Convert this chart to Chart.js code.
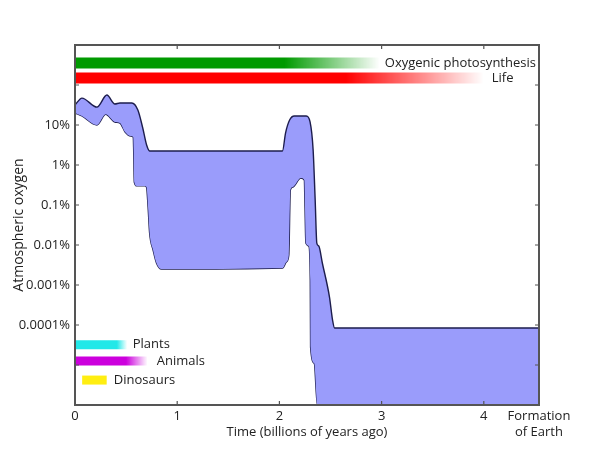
<!DOCTYPE html>
<html lang="en">

<head>
    <meta charset="UTF-8">
    <title>Atmospheric oxygen over time</title>
    <script src="https://cdn.jsdelivr.net/npm/chart.js"></script>
    <style>
        * {
            margin: 0;
            padding: 0;
            box-sizing: border-box;
        }

        body {
            background: #fff;
        }

        .chart-box {
            width: 600px;
            height: 450px;
        }
    </style>
</head>

<body>

    <div class="chart-box">
        <canvas id="oxygenChart"></canvas>
    </div>

    <script>
        // oxygen band, time in billions of years ago, O2 in percent of atmosphere
        const upperTimes = [0, 0.068, 0.215, 0.312, 0.39, 0.44, 0.556, 0.615, 0.663, 0.70, 0.73,
            2.03, 2.06, 2.10, 2.146, 2.263, 2.30, 2.33, 2.35, 2.366, 2.385, 2.42, 2.49, 2.52, 2.54, 4.54];
        const upperO2 = [31.6, 47, 28, 56, 33.5, 35.5, 35.5, 23.7, 8.4, 3.2, 2.24,
            2.24, 6.3, 13.3, 16.8, 16.8, 11.9, 2.37, 0.133, 0.0112, 0.0094, 0.00355, 0.0005, 0.000133, 0.000084, 0.000084];

        const lowerTimes = [0, 0.068, 0.215, 0.30, 0.39, 0.44, 0.49, 0.546, 0.57, 0.574, 0.58, 0.605, 0.683,
            0.70, 0.715, 0.73, 0.764, 0.797, 0.846, 2.032, 2.068, 2.092, 2.107, 2.13, 2.21, 2.244, 2.249,
            2.259, 2.288, 2.302, 2.305, 2.341, 2.371, 4.54];
        const lowerO2 = [20, 16.8, 10, 18.5, 11.9, 11.2, 6.7, 5.3, 5, 2.37, 0.376, 0.3, 0.3,
            0.28, 0.089, 0.02, 0.0075, 0.00355, 0.0025, 0.00266, 0.00376, 0.0056, 0.237, 0.28, 0.47, 0.42, 0.133,
            0.0112, 0.0094, 0.00133, 0.000028, 0.000011, 0.000001, 0.000001];

        // bars for life events
        const barNames = ['Oxygenic photosynthesis', 'Life', 'Plants', 'Animals', 'Dinosaurs'];
        const barStart = [0, 0, 0, 0, 0.07];
        const barSolidEnd = [2.05, 2.65, 0.41, 0.5, 0.31];
        const barEnd = [2.98, 4.0, 0.51, 0.71, 0.31];
        const barLevel = [355, 150, 0.000032, 0.0000126, 0.0000042];
        const barColors = ['#009a00', '#ff0000', '#22e8e8', '#cc00dd', '#ffee11'];
        const barLabelAt = [4.51, 4.29, 0.565, 0.80, 0.38];
        const barLabelAlign = ['right', 'right', 'left', 'left', 'left'];

        const xTicks = [0, 1, 2, 3, 4, 4.54];
        const yTicks = [1e-6, 1e-5, 1e-4, 1e-3, 1e-2, 1e-1, 1, 10, 100, 1000];
        const yLabels = { 10: '10%', 1: '1%', 0.1: '0.1%', 0.01: '0.01%', 0.001: '0.001%', 0.0001: '0.0001%' };

        const textColor = '#222';
        const fontFamily = '"Open Sans", Lato, sans-serif';

        function fadeColor(hex, alpha) {
            let r = parseInt(hex.slice(1, 3), 16);
            let g = parseInt(hex.slice(3, 5), 16);
            let b = parseInt(hex.slice(5, 7), 16);
            return `rgba(${r}, ${g}, ${b}, ${alpha})`;
        }

        // band datasets
        let datasets = [
            {
                label: 'upper',
                data: upperTimes.map((t, i) => ({ x: t, y: upperO2[i] })),
                borderColor: '#1d1d4d',
                backgroundColor: '#9a9cfb',
                borderWidth: 1.4,
                fill: '+1',
                cubicInterpolationMode: 'monotone',
                pointRadius: 0
            },
            {
                label: 'lower',
                data: lowerTimes.map((t, i) => ({ x: t, y: lowerO2[i] })),
                borderColor: '#1d1d4d',
                borderWidth: 1.4,
                fill: false,
                cubicInterpolationMode: 'monotone',
                pointRadius: 0
            }
        ];

        // each bar is a thick line with a fading gradient
        barNames.forEach((name, i) => {
            datasets.push({
                label: name,
                data: [{ x: barStart[i], y: barLevel[i] }, { x: barEnd[i], y: barLevel[i] }],
                borderWidth: i < 2 ? 11 : 9,
                borderCapStyle: 'butt',
                fill: false,
                pointRadius: 0,
                borderColor: function (context) {
                    let chart = context.chart;
                    if (!chart.chartArea) return barColors[i];
                    let xs = chart.scales.x;
                    let x0 = xs.getPixelForValue(barStart[i]);
                    let x1 = xs.getPixelForValue(barEnd[i]);
                    if (x1 - x0 < 1) return barColors[i];
                    let g = chart.ctx.createLinearGradient(x0, 0, x1, 0);
                    let stop = (barSolidEnd[i] - barStart[i]) / (barEnd[i] - barStart[i]);
                    g.addColorStop(0, barColors[i]);
                    g.addColorStop(Math.min(stop, 1), barColors[i]);
                    g.addColorStop(1, fadeColor(barColors[i], stop >= 1 ? 1 : 0));
                    return g;
                }
            });
        });

        // frame with inward ticks on all four sides, plus bar labels
        const framePlugin = {
            id: 'frame',
            afterDatasetsDraw(chart) {
                let ctx = chart.ctx;
                let { left, right, top, bottom } = chart.chartArea;
                let xs = chart.scales.x;
                let ys = chart.scales.y;
                ctx.save();

                ctx.font = '13px ' + fontFamily;
                ctx.fillStyle = textColor;
                ctx.textBaseline = 'middle';
                barNames.forEach((name, i) => {
                    ctx.textAlign = barLabelAlign[i];
                    ctx.fillText(name, xs.getPixelForValue(barLabelAt[i]), ys.getPixelForValue(barLevel[i]));
                });

                ctx.strokeStyle = '#555';
                ctx.lineWidth = 1.2;
                ctx.beginPath();
                xTicks.slice(1, 5).forEach(v => {
                    let px = xs.getPixelForValue(v);
                    ctx.moveTo(px, bottom);
                    ctx.lineTo(px, bottom - 4);
                    ctx.moveTo(px, top);
                    ctx.lineTo(px, top + 4);
                });
                yTicks.slice(1, -1).forEach(v => {
                    let py = ys.getPixelForValue(v);
                    ctx.moveTo(left, py);
                    ctx.lineTo(left + 4, py);
                    ctx.moveTo(right, py);
                    ctx.lineTo(right - 4, py);
                });
                ctx.stroke();

                ctx.lineWidth = 2;
                ctx.strokeRect(left, top, right - left, bottom - top);
                ctx.restore();
            }
        };

        let ctx = document.getElementById('oxygenChart').getContext('2d');
        new Chart(ctx, {
            type: 'line',
            data: { datasets: datasets },
            plugins: [framePlugin],
            options: {
                responsive: true,
                maintainAspectRatio: false,
                animation: false,
                layout: {
                    padding: { left: 0, right: 61, top: 45, bottom: 0 }
                },
                plugins: {
                    legend: { display: false },
                    tooltip: { enabled: false },
                    filler: { propagate: false }
                },
                scales: {
                    x: {
                        type: 'linear',
                        min: 0,
                        max: 4.54,
                        grid: { display: false, drawTicks: false },
                        border: { display: false },
                        afterBuildTicks: scale => {
                            scale.ticks = xTicks.map(v => ({ value: v }));
                        },
                        afterFit: scale => {
                            scale.height = 45;
                        },
                        ticks: {
                            autoSkip: false,
                            maxRotation: 0,
                            padding: 3,
                            color: textColor,
                            font: { family: fontFamily, size: 13, lineHeight: 1.25 },
                            callback: v => v === 4.54 ? ['Formation', 'of Earth'] : v
                        },
                        title: {
                            display: true,
                            text: 'Time (billions of years ago)',
                            color: textColor,
                            font: { family: fontFamily, size: 13 },
                            padding: { top: 0, bottom: 10 }
                        }
                    },
                    y: {
                        type: 'logarithmic',
                        min: 1e-6,
                        max: 1000,
                        grid: { display: false, drawTicks: false },
                        border: { display: false },
                        afterBuildTicks: scale => {
                            scale.ticks = yTicks.map(v => ({ value: v }));
                        },
                        afterFit: scale => {
                            scale.width = 75;
                        },
                        ticks: {
                            autoSkip: false,
                            padding: 5,
                            color: textColor,
                            font: { family: fontFamily, size: 13 },
                            callback: v => yLabels[v] || ''
                        },
                        title: {
                            display: true,
                            text: 'Atmospheric oxygen',
                            color: textColor,
                            font: { family: fontFamily, size: 14 },
                            padding: { top: 11, bottom: 0 }
                        }
                    }
                }
            }
        });
    </script>
</body>

</html>
